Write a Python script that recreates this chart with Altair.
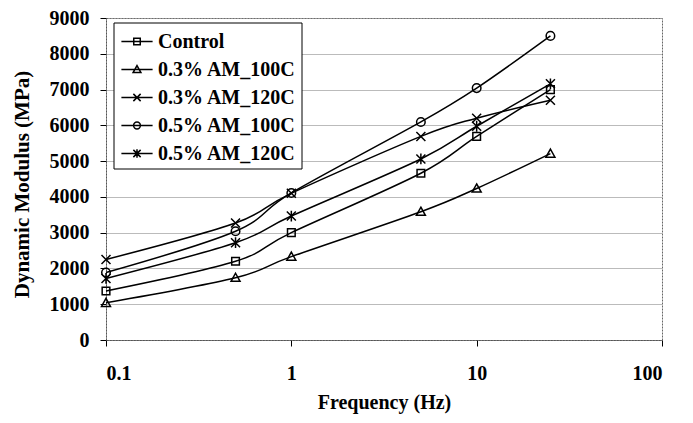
import altair as alt
import pandas as pd

# ---- data ----
freq = [0.1, 0.5, 1, 5, 10, 25]
series_names = ["Control", "0.3% AM_100C", "0.3% AM_120C", "0.5% AM_100C", "0.5% AM_120C"]
control = [1370, 2200, 3000, 4660, 5690, 7000]
am03_100 = [1040, 1740, 2330, 3585, 4235, 5210]
am03_120 = [2250, 3270, 4100, 5690, 6200, 6700]
am05_100 = [1885, 3040, 4110, 6095, 7040, 8500]
am05_120 = [1720, 2720, 3465, 5060, 5975, 7160]
values = [control, am03_100, am03_120, am05_100, am05_120]

rows = []
for name, vals in zip(series_names, values):
    for f, v in zip(freq, vals):
        rows.append({"freq": f, "modulus": v, "series": name})
df = pd.DataFrame(rows)

# ---- marker shapes (unit square paths) ----
def sq(s):
    return f"M{-s},{-s}H{s}V{s}H{-s}Z"

def tri(s):
    return f"M0,{-s}L{s},{0.8*s}H{-s}Z"

def xx(s):
    return f"M{-s},{-s}L{s},{s}M{-s},{s}L{s},{-s}"

def circ(s):
    return f"M{s},0A{s},{s} 0 1,1 {-s},0A{s},{s} 0 1,1 {s},0Z"

def ast(s):
    return xx(s) + f"M0,{-1.2*s}L0,{1.2*s}"

marker_paths = [sq(0.85), tri(1.0), xx(1.0), circ(0.95), ast(1.0)]
line_part = "M-1.2,0H1.2"
legend_paths = [line_part + sq(0.25), line_part + tri(0.3), line_part + xx(0.28),
                line_part + circ(0.26), line_part + ast(0.28)]

FONT = "Liberation Serif"

x_enc = alt.X("freq:Q", scale=alt.Scale(type="log", domain=[0.1, 100], nice=False),
              axis=alt.Axis(values=[0.1, 1, 10, 100], format="~g", title="Frequency (Hz)",
                            grid=False, labelPadding=17, titlePadding=9))
y_enc = alt.Y("modulus:Q", scale=alt.Scale(domain=[0, 9000], nice=False),
              axis=alt.Axis(values=list(range(0, 9001, 1000)), format="d",
                            title="Dynamic Modulus (MPa)", grid=True, labelPadding=11,
                            titlePadding=17, titleFontSize=21, titleY=166))

base = alt.Chart(df)

lines = base.mark_line(color="black", strokeWidth=1.5, interpolate="cardinal", tension=0).encode(
    x=x_enc, y=y_enc, detail="series:N"
)

points = base.mark_point(filled=False, color="black", strokeWidth=1.5, size=81, opacity=1).encode(
    x=x_enc, y=y_enc,
    shape=alt.Shape("series:N", scale=alt.Scale(domain=series_names, range=marker_paths), legend=None),
)

legend_layer = base.mark_point(filled=False, color="black", strokeWidth=1.5, opacity=0).encode(
    x=x_enc, y=y_enc,
    shape=alt.Shape("series:N", scale=alt.Scale(domain=series_names, range=legend_paths),
                    legend=alt.Legend(title=None, orient="none", legendX=7.5, legendY=4.5,
                                      labelFont=FONT, labelFontSize=20, labelFontWeight="bold",
                                      labelColor="black", symbolSize=676, symbolStrokeWidth=1.5,
                                      symbolStrokeColor="black", symbolFillColor="transparent",
                                      symbolOpacity=1, padding=5, rowPadding=4,
                                      symbolOffset=4.5, labelOffset=7, labelLimit=300,
                                      strokeColor="black", fillColor="white")),
)

chart = alt.layer(lines, points, legend_layer).resolve_scale(shape="independent").properties(
    width=556, height=322,
    autosize=alt.AutoSizeParams(type="none"),
    padding={"left": 98, "top": 10, "right": 23, "bottom": 75},
    background="white",
).configure_axis(
    labelFont=FONT, labelFontSize=20, labelFontWeight="bold", labelColor="black",
    titleFont=FONT, titleFontSize=20, titleFontWeight="bold", titleColor="black",
    tickColor="black", tickSize=6, tickWidth=1,
    domainColor="#555", domainDash=[2, 1], domainWidth=1,
    gridColor="#777", gridDash=[1, 1], gridWidth=1,
).configure_view(
    stroke="#666", strokeDash=[2, 1], strokeWidth=1
)

chart.save("out.html", embed_options={"renderer": "svg", "actions": False})
